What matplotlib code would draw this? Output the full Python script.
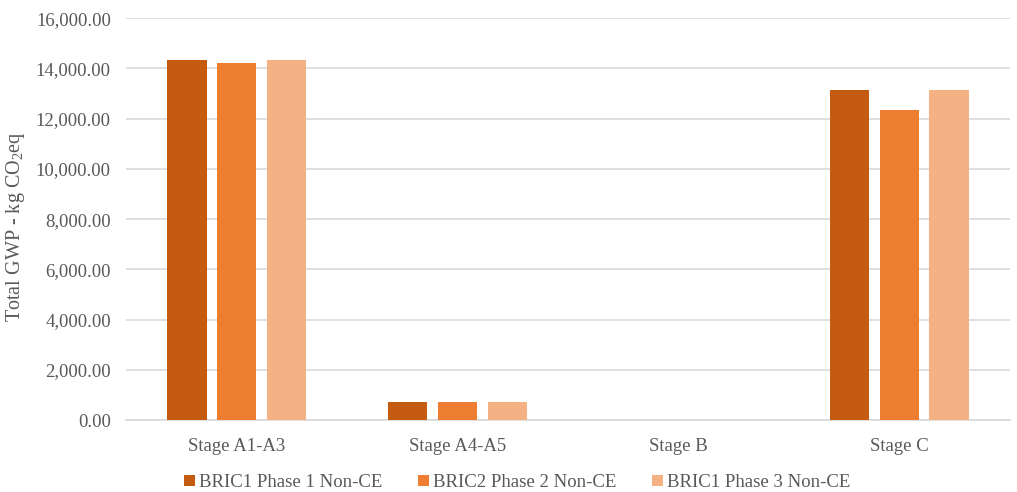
import numpy as np
import matplotlib.pyplot as plt
from matplotlib.ticker import FuncFormatter

stages = ['Stage A1-A3', 'Stage A4-A5', 'Stage B', 'Stage C']
series_names = ['BRIC1 Phase 1 Non-CE', 'BRIC2 Phase 2 Non-CE', 'BRIC1 Phase 3 Non-CE']
phase1 = [14340, 720, 0, 13130]
phase2 = [14220, 720, 0, 12350]
phase3 = [14350, 720, 0, 13130]
colors = ['#C55A11', '#ED7D31', '#F4B183']

plt.rcParams['font.family'] = ['Liberation Serif', 'DejaVu Serif']
plt.rcParams['mathtext.fontset'] = 'custom'
plt.rcParams['mathtext.rm'] = 'Liberation Serif'
plt.rcParams['mathtext.it'] = 'Liberation Serif:italic'

fs = 13.5
fig = plt.figure(figsize=(10.17, 4.92), dpi=100)
ax = fig.add_axes([0.124, 0.146, 0.869, 0.817])

x = np.arange(len(stages))
w = 0.18
step = 0.226
for i, (vals, name) in enumerate(zip([phase1, phase2, phase3], series_names)):
    ax.bar(x + (i - 1) * step, vals, width=w, color=colors[i], label=name, zorder=3)

ax.set_xlim(-0.5, len(stages) - 0.5)
ax.set_ylim(0, 16000)
ax.set_yticks(np.arange(0, 16001, 2000))
ax.yaxis.set_major_formatter(FuncFormatter(lambda v, p: f'{v:,.2f}'))
ax.set_xticks(x)
ax.set_xticklabels(stages)
ax.grid(axis='y', color='#D9D9D9', linewidth=1.2, zorder=0)
for s in ['top', 'right', 'left']:
    ax.spines[s].set_visible(False)
ax.spines['bottom'].set_color('#D9D9D9')
ax.spines['bottom'].set_linewidth(1.2)
ax.tick_params(axis='both', length=0, labelsize=fs, colors='#595959')
ax.tick_params(axis='y', pad=11)
ax.tick_params(axis='x', pad=13)
ax.set_ylabel('Total GWP - kg CO$_2$eq', fontsize=14.5, color='#595959')
ax.yaxis.set_label_coords(-0.112, 0.48)

fig.legend(loc='center', bbox_to_anchor=(0.509, 0.019), ncol=3, frameon=False,
           fontsize=fs, labelcolor='#595959', handlelength=0.55, handleheight=0.55,
           handletextpad=0.25, columnspacing=1.9)

fig.savefig('out.png', dpi=100)
